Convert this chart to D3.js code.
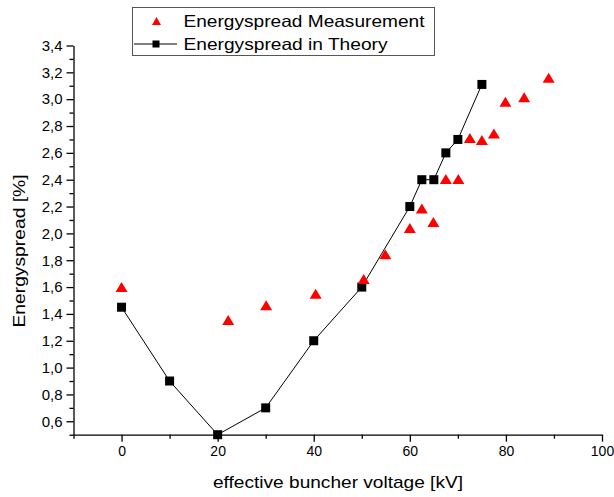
<!DOCTYPE html>
<html>
<head>
<meta charset="utf-8">
<script src="https://cdn.jsdelivr.net/npm/d3@7"></script>
<style>
  body { margin: 0; background: #fff; }
  svg { display: block; font-family: "Liberation Sans", Arial, sans-serif; }
  .axis path, .axis line { stroke: #000; stroke-width: 1.3; }
  .axis text { fill: #000; }
</style>
</head>
<body>
<svg id="chart" width="614" height="497"></svg>
<script>
// Energyspread measurement (triangles)
const measVoltage = [0, 22.2, 30.1, 40.4, 50.4, 54.9, 60, 62.5, 64.9, 67.5, 70.1, 72.5, 75, 77.5, 79.9, 83.8, 88.9];
const measSpread = [1.6, 1.355, 1.465, 1.55, 1.66, 1.845, 2.04, 2.185, 2.085, 2.405, 2.405, 2.71, 2.695, 2.745, 2.98, 3.015, 3.16];

// Energyspread in theory (squares + line)
const theoVoltage = [0, 10, 20, 30, 40, 50, 60, 62.5, 65, 67.5, 70, 75];
const theoSpread = [1.45, 0.9, 0.5, 0.7, 1.2, 1.6, 2.2, 2.4, 2.4, 2.6, 2.7, 3.11];

const xMajorTicks = [0, 20, 40, 60, 80, 100];
const xMinorTicks = [-10, 10, 30, 50, 70, 90];
const yMajorTicks = [0.6, 0.8, 1.0, 1.2, 1.4, 1.6, 1.8, 2.0, 2.2, 2.4, 2.6, 2.8, 3.0, 3.2, 3.4];
const yMinorTicks = [0.5, 0.7, 0.9, 1.1, 1.3, 1.5, 1.7, 1.9, 2.1, 2.3, 2.5, 2.7, 2.9, 3.1, 3.3];

const legendLabels = ["Energyspread Measurement", "Energyspread in Theory"];

const svg = d3.select("#chart");
const margin = { left: 73.5, right: 12, top: 45.5, bottom: 62.3 };
const width = 614, height = 497;

const x = d3.scaleLinear().domain([-10, 100]).range([margin.left, width - margin.right]);
const y = d3.scaleLinear().domain([0.5, 3.4]).range([height - margin.bottom, margin.top]);

const fmt = d => d3.format(".1f")(d).replace(".", ",");

// axes
const xAxisG = svg.append("g").attr("class", "axis")
  .attr("transform", "translate(0," + y(0.5) + ")");
xAxisG.call(d3.axisBottom(x).tickValues(xMajorTicks).tickSize(7).tickSizeOuter(0).tickPadding(4));
xAxisG.selectAll("text").attr("font-size", 14).attr("font-family", "Liberation Sans, Arial");
svg.append("g").attr("class", "axis")
  .attr("transform", "translate(0," + y(0.5) + ")")
  .call(d3.axisBottom(x).tickValues(xMinorTicks).tickSize(4).tickSizeOuter(0).tickFormat(""))
  .select(".domain").remove();

const yAxisG = svg.append("g").attr("class", "axis")
  .attr("transform", "translate(" + x(-10) + ",0)");
yAxisG.call(d3.axisLeft(y).tickValues(yMajorTicks).tickFormat(fmt).tickSize(7).tickSizeOuter(0).tickPadding(4));
yAxisG.selectAll("text").attr("font-size", 15).attr("font-family", "Liberation Sans, Arial");
svg.append("g").attr("class", "axis")
  .attr("transform", "translate(" + x(-10) + ",0)")
  .call(d3.axisLeft(y).tickValues(yMinorTicks).tickSize(4).tickSizeOuter(0).tickFormat(""))
  .select(".domain").remove();

// axis titles
svg.append("text")
  .attr("x", 338).attr("y", 488)
  .attr("text-anchor", "middle")
  .attr("font-size", 17)
  .attr("textLength", 250).attr("lengthAdjust", "spacingAndGlyphs")
  .text("effective buncher voltage [kV]");

svg.append("text")
  .attr("transform", "translate(25,251) rotate(-90)")
  .attr("text-anchor", "middle")
  .attr("font-size", 17)
  .attr("textLength", 153).attr("lengthAdjust", "spacingAndGlyphs")
  .text("Energyspread [%]");

// theory line + squares
const theo = theoVoltage.map((v, i) => ({ v: v, s: theoSpread[i] }));
const line = d3.line().x(d => x(d.v)).y(d => y(d.s));
svg.append("path")
  .attr("d", line(theo))
  .attr("fill", "none")
  .attr("stroke", "#000")
  .attr("stroke-width", 1);

const sq = 9;
svg.append("g").selectAll("rect")
  .data(theo).join("rect")
  .attr("x", d => x(d.v) - sq / 2)
  .attr("y", d => y(d.s) - sq / 2)
  .attr("width", sq).attr("height", sq)
  .attr("fill", "#000");

// measurement triangles
const meas = measVoltage.map((v, i) => ({ v: v, s: measSpread[i] }));
const tri = (cx, cy, w, h) => "M" + (cx - w / 2) + "," + (cy + h / 2) +
  "L" + (cx + w / 2) + "," + (cy + h / 2) + "L" + cx + "," + (cy - h / 2) + "Z";
svg.append("g").selectAll("path")
  .data(meas).join("path")
  .attr("d", d => tri(x(d.v), y(d.s), 12, 10))
  .attr("fill", "#ff0000");

// legend
const lg = svg.append("g");
lg.append("rect")
  .attr("x", 132.5).attr("y", 7.5)
  .attr("width", 302).attr("height", 48)
  .attr("fill", "#fff").attr("stroke", "#555").attr("stroke-width", 1);
lg.append("path").attr("d", tri(156.5, 21, 9, 8)).attr("fill", "#ff0000");
lg.append("line").attr("x1", 134).attr("x2", 177).attr("y1", 44).attr("y2", 44)
  .attr("stroke", "#000").attr("stroke-width", 1);
lg.append("rect").attr("x", 152.5).attr("y", 40.5).attr("width", 7).attr("height", 7).attr("fill", "#000");
lg.selectAll("text.lab")
  .data(legendLabels).join("text")
  .attr("class", "lab")
  .attr("x", 183.5)
  .attr("y", (d, i) => 27 + i * 23)
  .attr("font-size", 16.5)
  .attr("textLength", (d, i) => i === 0 ? 241 : 204)
  .attr("lengthAdjust", "spacingAndGlyphs")
  .text(d => d);
</script>
</body>
</html>
